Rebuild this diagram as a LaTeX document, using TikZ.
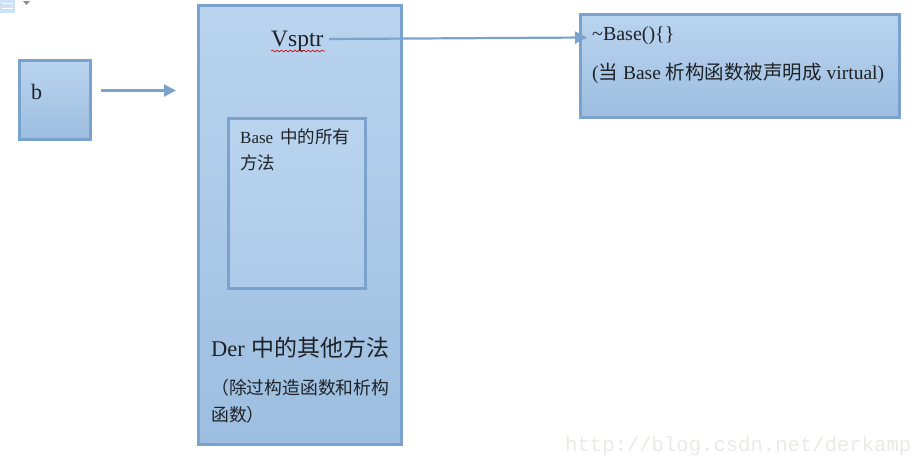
\documentclass[tikz,border=0pt]{standalone}
\usepackage{fontspec}
\setmainfont{Liberation Serif}
\setmonofont{Liberation Mono}
\newfontfamily\cjk{Noto Sans CJK SC}
\usepackage{xcolor}
\definecolor{acc}{HTML}{7BA2CC}
\definecolor{top}{HTML}{BAD4EF}
\definecolor{bot}{HTML}{9DBEE0}
\definecolor{ink}{HTML}{1E2226}
\definecolor{mark}{HTML}{E9E9E5}
\usetikzlibrary{arrows.meta,positioning,calc,decorations.pathmorphing}
\tikzset{
  >={Triangle[length=12pt,width=12pt]},
  bx/.style={draw=acc,line width=3pt,top color=top,bottom color=bot,middle color=top!50!bot,anchor=north west,inner sep=0pt,outer sep=0pt},
  lab/.style={text=ink,inner sep=0pt,align=left,anchor=base west},
  arr/.style={->,draw=acc,line width=2.2pt},
}
\begin{document}
\begin{tikzpicture}[x=1pt,y=-1pt]
\useasboundingbox (0,0) rectangle (913,456);
% toolbar icon
\fill[top!70!white] (0,0) rectangle (15,13);
\draw[white,line width=1pt] (2,3)--(13,3) (2,8)--(13,8);
\fill[black!45] (23,1)--(30,1)--(26.5,5)--cycle;
% boxes
\node[bx,minimum width=71pt,minimum height=79pt] (b) at (19,60) {};
\node[bx,minimum width=203pt,minimum height=439pt] (der) at (198,5) {};
\node[bx,minimum width=137pt,minimum height=170pt,top color=top,bottom color=top!55!bot,middle color=top!80!bot] (base) at (228,118) {};
\node[bx,minimum width=319pt,minimum height=103pt] (dtor) at (580,14) {};
% labels
\node[lab,font=\fontsize{22}{24}\selectfont] (btxt) at (31,99) {b};
\node[lab,font=\fontsize{23.5}{24}\selectfont] (vptr) at (271,46) {Vsptr};
\draw[red!85!black,line width=0.6pt,decorate,decoration={snake,amplitude=0.9pt,segment length=4.5pt}]
  (271,51)--(325,51);
\node[lab,font=\fontsize{17}{26}\selectfont] (basetxt) at (240,143) {Base\hspace{3pt} {\cjk\fontsize{17.5}{26}\selectfont 中的所有}};
\node[lab,font=\fontsize{17.5}{26}\selectfont] (basetxt2) at (240,169) {\cjk 方法};
\node[lab,font=\fontsize{22.5}{26}\selectfont] (dertxt) at (211,356) {Der\hspace{1pt} {\cjk\fontsize{23}{26}\selectfont 中的其他方法}};
\node[lab,font=\fontsize{17.8}{26}\selectfont] (dernote) at (211,394) {\cjk （除过构造函数和析构};
\node[lab,font=\fontsize{17.8}{26}\selectfont] (dernote2) at (211,421) {\cjk 函数）};
\node[lab,font=\fontsize{20}{22}\selectfont] (dtor1) at (592,40) {\textasciitilde Base()\{\}};
\node[lab,font=\fontsize{19.5}{22}\selectfont] (dtor2) at (592,79) {({\cjk 当} Base {\cjk 析构函数被声明成} virtual)};
\node[lab,font=\ttfamily\fontsize{20.6}{24}\selectfont,text=mark] (wm) at (565,451) {http://blog.csdn.net/derkamp};
% connectors
\coordinate (bout) at (101,90.5);
\coordinate (derin) at (176,90.5);
\coordinate (vout) at (329,39);
\coordinate (dtorin) at (587,37.5);
\draw[arr] (bout)--(derin);
\draw[arr] (vout)--(dtorin);
\end{tikzpicture}
\end{document}
